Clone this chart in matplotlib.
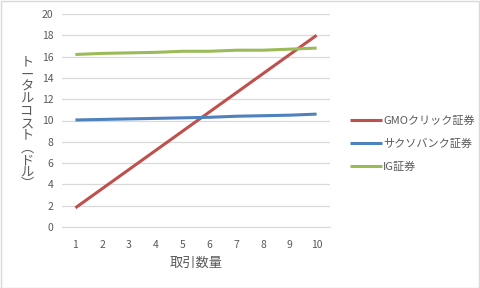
import matplotlib
matplotlib.use("Agg")
import matplotlib.pyplot as plt
from matplotlib.patches import Rectangle

plt.rcParams['font.family'] = ['Noto Sans CJK JP', 'DejaVu Sans']

counts = [1, 2, 3, 4, 5, 6, 7, 8, 9, 10]
gmo = [1.8, 3.6, 5.4, 7.2, 9.0, 10.8, 12.6, 14.4, 16.2, 18.0]
sakura = [10.05, 10.1, 10.15, 10.2, 10.25, 10.3, 10.4, 10.45, 10.5, 10.6]
ig = [16.2, 16.3, 16.35, 16.4, 16.5, 16.5, 16.6, 16.6, 16.7, 16.8]
series_names = ['GMOクリック証券', 'サクソバンク証券', 'IG証券']
colors = ['#C0504D', '#4F81BD', '#9BBB59']
yticks = [0, 2, 4, 6, 8, 10, 12, 14, 16, 18, 20]

W, H = 480, 288
fig = plt.figure(figsize=(W / 100, H / 100), dpi=100)
fig.patches.append(Rectangle((0.5 / W, 0.5 / H), 1 - 1.5 / W, 1 - 1.5 / H,
                             transform=fig.transFigure, fill=False,
                             edgecolor='#D9D9D9', linewidth=1))

ax = fig.add_axes([62 / W, 61 / H, 268 / W, 213 / H])
for vals, c, name in zip([gmo, sakura, ig], colors, series_names):
    ax.plot(counts, vals, color=c, linewidth=2.2, label=name, solid_capstyle='butt')

ax.set_xlim(0.5, 10.5)
ax.set_ylim(0, 20)
ax.set_yticks(yticks)
ax.set_xticks(counts)
ax.grid(axis='y', color='#D9D9D9', linewidth=0.9)
ax.set_axisbelow(True)
for s in ['top', 'right', 'left']:
    ax.spines[s].set_visible(False)
ax.spines['bottom'].set_color('#D9D9D9')
ax.tick_params(length=0, labelsize=7.5, labelcolor='#595959', pad=6)
ax.tick_params(axis='x', pad=9)
ax.set_xlabel('取引数量', fontsize=9.5, color='#595959', labelpad=5)

ylabel = '\n'.join('トータルコスト︵ドル︶')
fig.text(27 / W, 1 - 124 / H, ylabel, fontsize=9.5, color='#595959',
         ha='center', va='center', linespacing=0.92)

leg = ax.legend(loc='center left', bbox_to_anchor=(340 / W, 144 / H),
                bbox_transform=fig.transFigure, frameon=False, fontsize=8,
                handlelength=2.9, handletextpad=0.1, labelspacing=1.15,
                labelcolor='#595959')

fig.savefig('out.png', dpi=100)
